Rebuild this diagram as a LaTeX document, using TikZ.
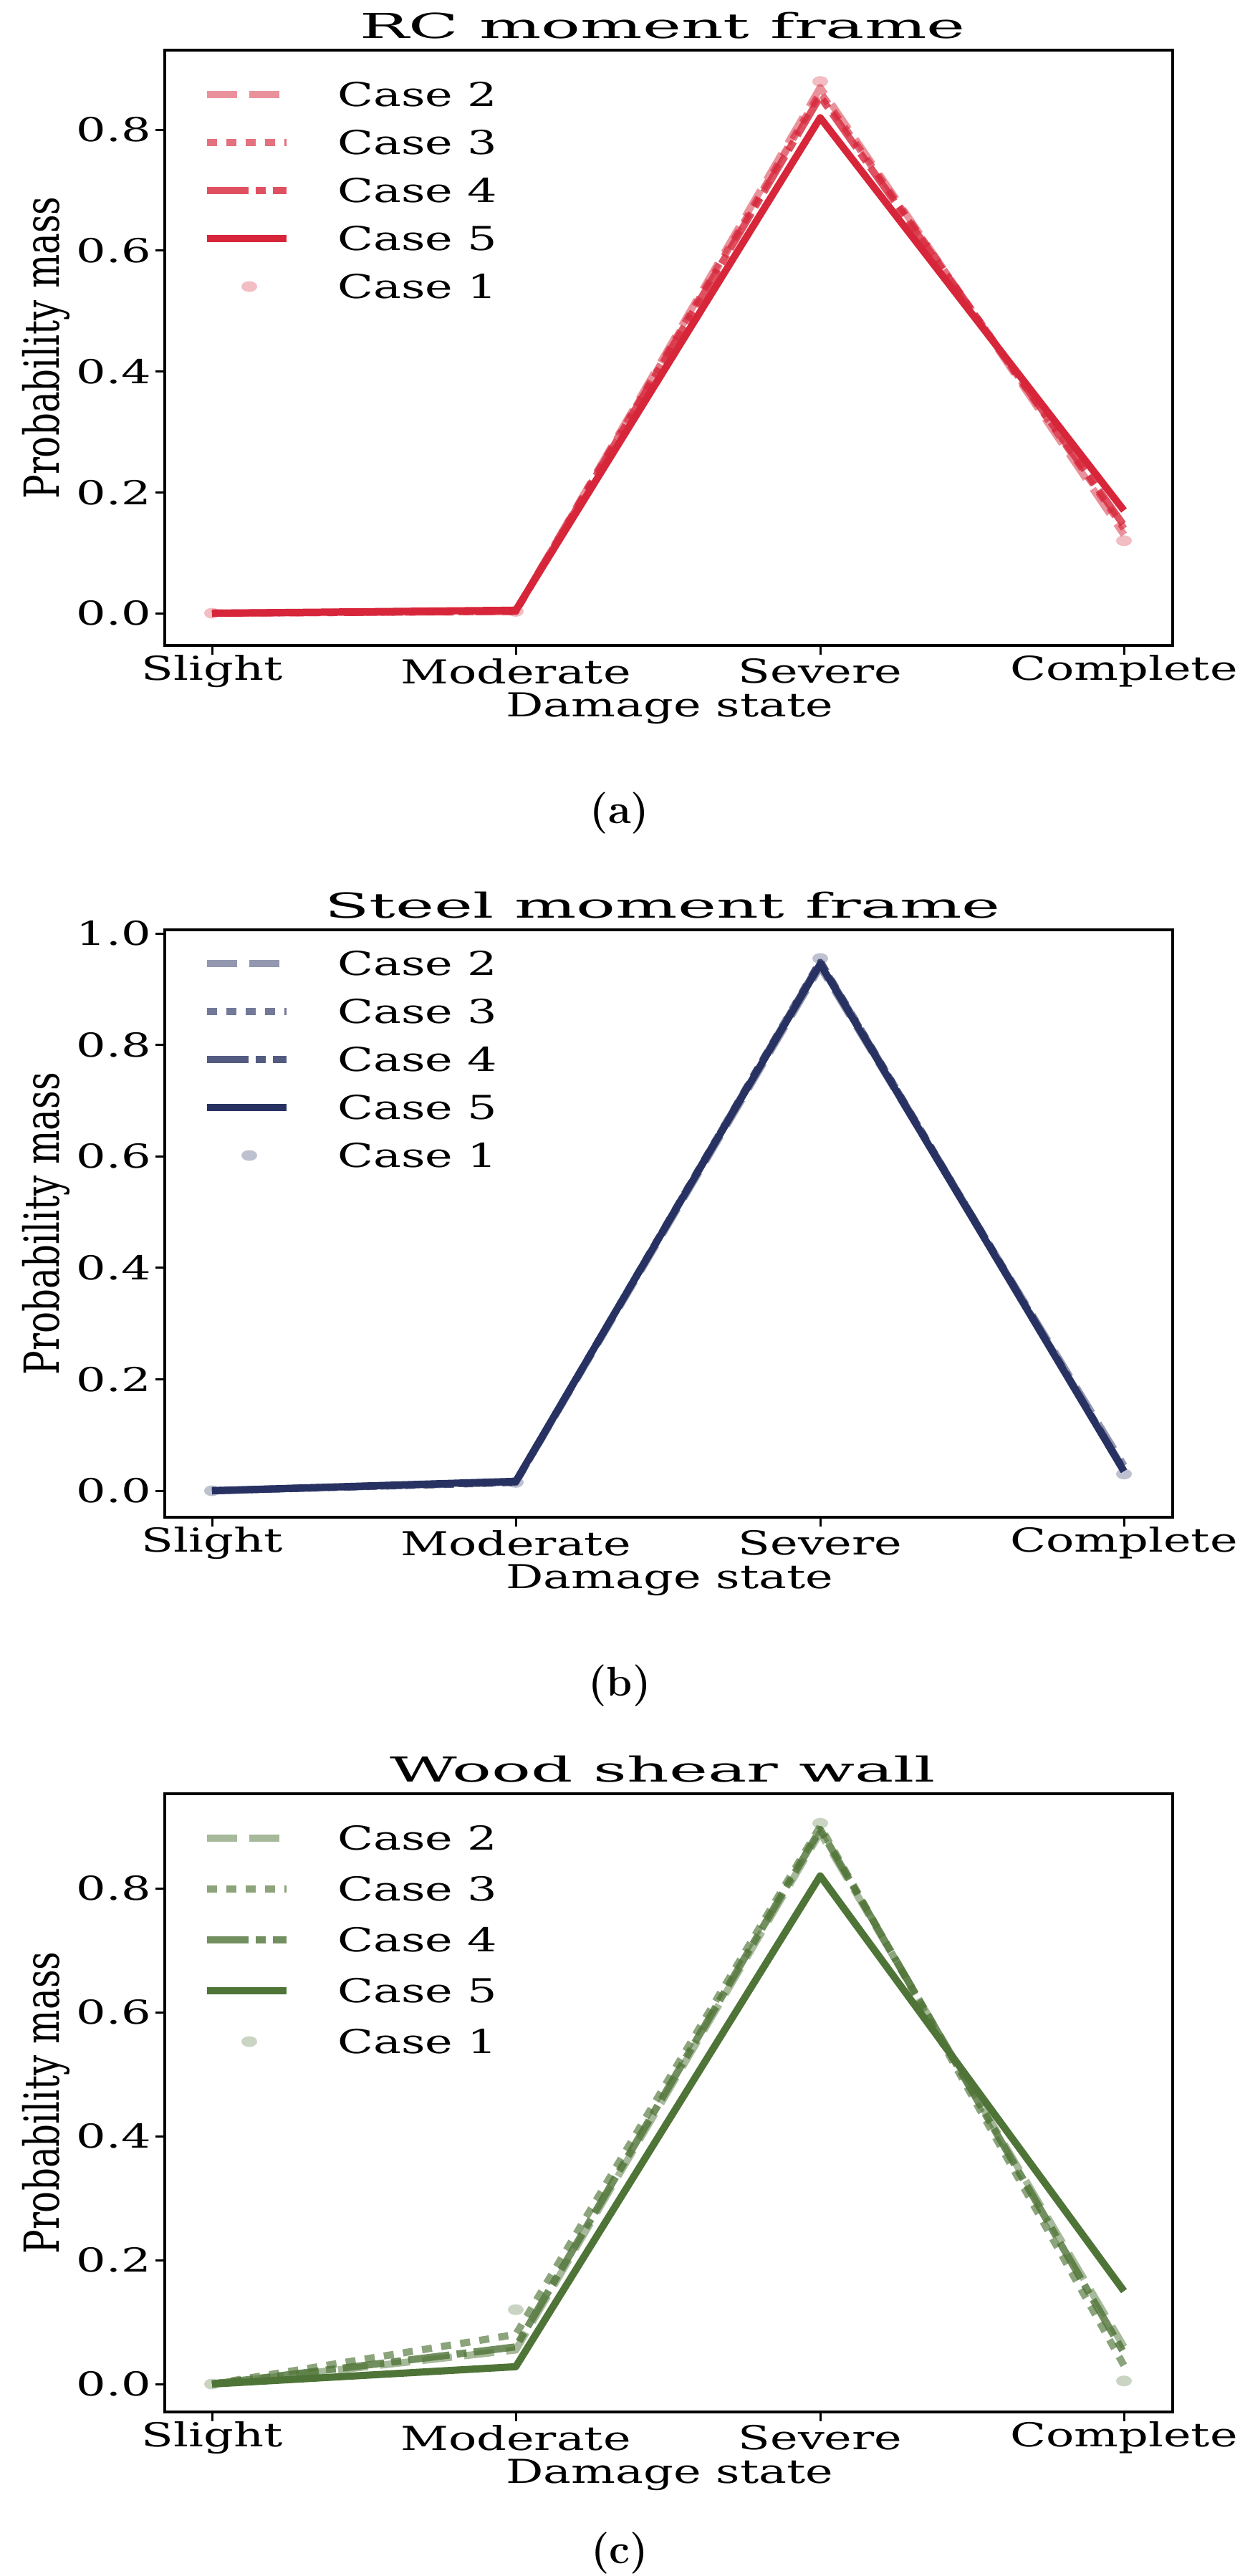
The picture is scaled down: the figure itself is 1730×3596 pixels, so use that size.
\documentclass[tikz,border=0pt]{standalone}
\usepackage{fontspec}
\setmainfont{DejaVu Serif}
\newfontfamily\lblfont{Latin Modern Roman}
\newcommand\sx[1]{\scalebox{1.42}[1]{#1}}
\begin{document}
\begin{tikzpicture}[x=1pt,y=-1pt,
  txt/.style={font=\fontsize{46}{52}\selectfont, inner sep=0pt},
  ttl/.style={font=\fontsize{48}{54}\selectfont, inner sep=0pt},
  sub/.style={font=\lblfont\fontsize{58}{64}\selectfont\bfseries, inner sep=0pt},
  frame/.style={line width=4.5pt},
  tick/.style={line width=3pt},
  c1/.style={fill=#1, fill opacity=0.3, draw=none},
  c2/.style={draw=#1, draw opacity=0.5, line width=10pt, dash pattern=on 42pt off 17pt},
  c3/.style={draw=#1, draw opacity=0.65, line width=10pt, dash pattern=on 14pt off 13pt},
  c4/.style={draw=#1, draw opacity=0.8, line width=10pt, dash pattern=on 58pt off 10pt on 14pt off 10pt},
  c5/.style={draw=#1, line width=10pt},
]
\definecolor{rc}{HTML}{D7263A}
\definecolor{st}{HTML}{283262}
\definecolor{wd}{HTML}{4F7437}
\useasboundingbox (0,0) rectangle (1730,3596);
\fill[white] (0,0) rectangle (1730,3596);

% #1 prefix, #2 box top, #3 box bottom, #4 y0, #5 unit, #6 colour, #7 title, #8 legend top, #9 legend step
\newcommand\mypanel[9]{%
  \draw[frame] (230,#2) rectangle (1637,#3);
  \node[ttl] (#1title) at (925,#2-34) {\scalebox{1.9}[1]{#7}};
  \foreach \n/\xx in {Slight/296,Moderate/720,Severe/1145,Complete/1569}{
    \draw[tick] (\xx,#3) -- (\xx,#3+13);
    \node[txt] (#1x\n) at (\xx,#3+36) {\sx{\n}};
  }
  \node[txt] (#1xlab) at (935,#3+88) {\sx{Damage state}};
  \node[font=\fontsize{50}{56}\selectfont, inner sep=0pt, rotate=90] (#1ylab) at (64,{(#2+#3)/2}) {\scalebox{1}[1.35]{Probability mass}};
  \foreach \k [evaluate=\k as \v using #4-\k*#5] in {0.0,0.2,0.4,0.6,0.8}{
    \draw[tick] (230,\v) -- (217,\v);
    \node[txt, anchor=east] at (211,\v) {\sx{\k}};
  }
  \foreach \lab/\st [count=\i from 0] in {Case 2/c2,Case 3/c3,Case 4/c4,Case 5/c5}{
    \draw[\st=#6] (289,#8+\i*#9) -- (400,#8+\i*#9);
    \node[txt, anchor=west] at (471,#8+\i*#9) {\sx{\lab}};
  }
  \fill[c1=#6] (348,#8+4*#9) ellipse [x radius=11, y radius=7.5];
  \node[txt, anchor=west] at (471,#8+4*#9) {\sx{Case 1}};
}

\newcommand\myline[7]{%
  \draw[#1, line join=round] (296,{#2-#4*#3}) -- (720,{#2-#5*#3}) -- (1145,{#2-#6*#3}) -- (1569,{#2-#7*#3});
}
\newcommand\mydots[7]{%
  \foreach \xx/\vv in {296/#4,720/#5,1145/#6,1569/#7}{\fill[#1] (\xx,{#2-\vv*#3}) ellipse [x radius=11, y radius=7.5];}
}

% ---------- (a) RC ----------
\mypanel{a}{70}{901}{856}{843.5}{rc}{RC moment frame}{132}{67}
\mydots{c1=rc}{856}{843.5}{0}{0.003}{0.88}{0.12}
\myline{c2=rc}{856}{843.5}{0}{0.003}{0.87}{0.13}
\myline{c3=rc}{856}{843.5}{0}{0.003}{0.862}{0.14}
\myline{c4=rc}{856}{843.5}{0}{0.003}{0.855}{0.145}
\myline{c5=rc}{856}{843.5}{0}{0.005}{0.82}{0.17}
\node[sub] (alab) at (865,1135) {(a)};

% ---------- (b) Steel ----------
\mypanel{b}{1298}{2118}{2081}{778}{st}{Steel moment frame}{1345}{67}
\draw[tick] (230,1303) -- (217,1303);
\node[txt, anchor=east] (b10) at (211,1303) {\sx{1.0}};
\mydots{c1=st}{2081}{778}{0}{0.015}{0.955}{0.03}
\myline{c2=st}{2081}{778}{0}{0.015}{0.94}{0.045}
\myline{c3=st}{2081}{778}{0}{0.015}{0.95}{0.035}
\myline{c4=st}{2081}{778}{0}{0.016}{0.948}{0.037}
\myline{c5=st}{2081}{778}{0}{0.017}{0.945}{0.035}
\node[sub] (blab) at (865,2353) {(b)};

% ---------- (c) Wood ----------
\mypanel{c}{2504}{3367}{3328}{865}{wd}{Wood shear wall}{2566}{71}
\mydots{c1=wd}{3328}{865}{0}{0.12}{0.905}{0.005}
\myline{c2=wd}{3328}{865}{0}{0.055}{0.89}{0.06}
\myline{c3=wd}{3328}{865}{0}{0.08}{0.9}{0.03}
\myline{c4=wd}{3328}{865}{0}{0.06}{0.895}{0.05}
\myline{c5=wd}{3328}{865}{0}{0.028}{0.82}{0.15}
\node[sub] (clab) at (865,3564) {(c)};
\end{tikzpicture}
\end{document}
